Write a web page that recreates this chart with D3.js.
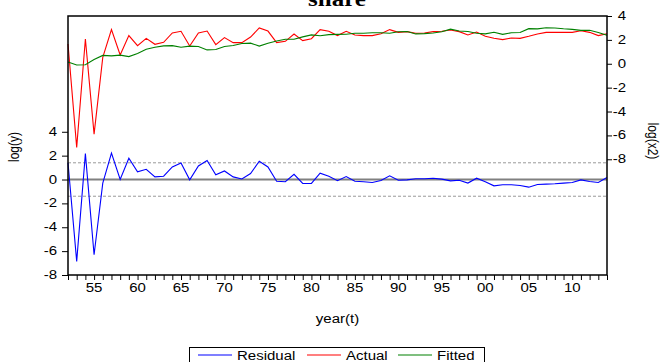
<!DOCTYPE html>
<html><head><meta charset="utf-8">
<script src="https://cdn.jsdelivr.net/npm/d3@7"></script>
<style>
body{margin:0;background:#fff}
svg{display:block}
text{font-family:"Liberation Sans",Arial,sans-serif;font-size:12px;fill:#000}
</style>
</head><body>
<svg id="c" width="663" height="362"></svg>
<script>
// Annual observations, 1952-2014
const years = d3.range(1952, 2015);

const actual = [
  1.65, -7.00, 2.07, -5.89, 0.54, 2.86, 0.73, 2.36, 1.52, 2.13,
  1.63, 1.80, 2.58, 2.72, 1.49, 2.58, 2.74, 1.60, 2.19, 1.77,
  1.77, 2.24, 3.00, 2.74, 1.77, 1.88, 2.49, 1.94, 2.10, 2.86,
  2.72, 2.36, 2.72, 2.41, 2.36, 2.36, 2.52, 2.86, 2.63, 2.69,
  2.55, 2.58, 2.69, 2.72, 2.83, 2.69, 2.41, 2.66, 2.30, 2.13,
  2.02, 2.16, 2.13, 2.30, 2.49, 2.63, 2.63, 2.63, 2.63, 2.77,
  2.63, 2.36, 2.52
];

const fitted = [
  0.15, -0.10, -0.08, 0.35, 0.70, 0.66, 0.72, 0.60, 0.85, 1.22,
  1.38, 1.50, 1.52, 1.38, 1.48, 1.44, 1.16, 1.20, 1.45, 1.53,
  1.70, 1.73, 1.48, 1.72, 1.90, 2.05, 2.05, 2.25, 2.42, 2.35,
  2.44, 2.46, 2.47, 2.55, 2.55, 2.60, 2.60, 2.55, 2.68, 2.70,
  2.50, 2.52, 2.58, 2.68, 2.90, 2.75, 2.70, 2.55, 2.50, 2.64,
  2.46, 2.60, 2.62, 2.94, 2.92, 3.02, 3.00, 2.93, 2.88, 2.80,
  2.80, 2.62, 2.38
];

const residual = [
  1.40, -6.86, 2.17, -6.30, -0.30, 2.22, 0.00, 1.78, 0.64, 0.86,
  0.22, 0.28, 1.05, 1.39, -0.03, 1.14, 1.60, 0.39, 0.72, 0.22,
  0.05, 0.50, 1.53, 1.05, -0.14, -0.19, 0.44, -0.33, -0.33, 0.53,
  0.28, -0.10, 0.25, -0.14, -0.19, -0.25, -0.08, 0.31, -0.06, -0.03,
  0.06, 0.06, 0.11, 0.03, -0.11, -0.06, -0.30, 0.11, -0.19, -0.53,
  -0.44, -0.44, -0.50, -0.64, -0.42, -0.39, -0.36, -0.30, -0.25, -0.03,
  -0.17, -0.25, 0.17
];

// Standard error band drawn around the zero line of the residuals
const seBand = 1.4;

const leftTicks = [4, 2, 0, -2, -4, -6, -8];
const rightTicks = [4, 2, 0, -2, -4, -6, -8];
const yearLabels = d3.range(1955, 2011, 5);

const seriesNames = ["Residual", "Actual", "Fitted"];
const seriesColors = ["#0000ff", "#ff0000", "#008000"];

const svg = d3.select("#c");
const W = 663, H = 362;
const m = {l: 68, r: 607, t: 16, b: 275};
const SX = 1.25; // horizontal text stretch

const x = d3.scaleLinear().domain([1952, 2014]).range([m.l, m.r]);
const yL = d3.scaleLinear().domain([-8, 13.7]).range([m.b, m.t]);
const yR = d3.scaleLinear().domain([-17.69, 4]).range([m.b, m.t]);

// stretched text helper
function label(sel, tx, ty, str, anchor, rot, extra) {
  const g = sel.append("g")
    .attr("transform", `translate(${tx},${ty}) scale(${SX},1)` + (rot ? ` rotate(${rot})` : ""));
  const t = g.append("text").attr("text-anchor", anchor || "start").text(str);
  if (extra) extra(t);
  return t;
}

// title (mostly above the visible area)
label(svg, 337, 6, "share", "middle", 0, t => t
  .style("font-family", '"Liberation Serif","Times New Roman",serif')
  .style("font-size", "20px").style("font-weight", "bold"));

const plot = svg.append("g");

// reference lines for residuals
plot.append("line")
  .attr("x1", m.l).attr("x2", m.r).attr("y1", yL(0)).attr("y2", yL(0))
  .attr("stroke", "#808080").attr("stroke-width", 2);
[seBand, -seBand].forEach(v => {
  plot.append("line")
    .attr("x1", m.l).attr("x2", m.r).attr("y1", yL(v)).attr("y2", yL(v))
    .attr("stroke", "#999").attr("stroke-width", 1).attr("stroke-dasharray", "3,2");
});

const lineL = d3.line().x((d, i) => x(years[i])).y(d => yL(d));
const lineR = d3.line().x((d, i) => x(years[i])).y(d => yR(d));

plot.append("path").datum(residual).attr("d", lineL)
  .attr("fill", "none").attr("stroke", seriesColors[0]).attr("stroke-width", 1.1);
plot.append("path").datum(actual).attr("d", lineR)
  .attr("fill", "none").attr("stroke", seriesColors[1]).attr("stroke-width", 1.1);
plot.append("path").datum(fitted).attr("d", lineR)
  .attr("fill", "none").attr("stroke", seriesColors[2]).attr("stroke-width", 1.1);

// frame
svg.append("rect").attr("x", m.l).attr("y", m.t)
  .attr("width", m.r - m.l).attr("height", m.b - m.t)
  .attr("fill", "none").attr("stroke", "#000").attr("stroke-width", 1.5);

// left axis
const gL = svg.append("g").attr("transform", `translate(${m.l},0)`)
  .call(d3.axisLeft(yL).tickValues(leftTicks).tickSize(6).tickFormat(""));
gL.select(".domain").remove();
gL.selectAll(".tick line").attr("stroke", "#000");
leftTicks.forEach(v => label(svg, m.l - 11, yL(v) + 4, String(v), "end"));

// right axis
const gR = svg.append("g").attr("transform", `translate(${m.r},0)`)
  .call(d3.axisRight(yR).tickValues(rightTicks).tickSize(5).tickFormat(""));
gR.select(".domain").remove();
gR.selectAll(".tick line").attr("stroke", "#000");
rightTicks.forEach(v => label(svg, m.r + 19, yR(v) + 4, String(v), "end"));

// bottom axis: a tick every year, labels every five
const gB = svg.append("g").attr("transform", `translate(0,${m.b})`)
  .call(d3.axisBottom(x).tickValues(years).tickSize(5).tickFormat(""));
gB.select(".domain").remove();
gB.selectAll(".tick line").attr("stroke", "#000");
yearLabels.forEach(v => label(svg, x(v), 292, String(v % 100).padStart(2, "0"), "middle"));

// axis titles
label(svg, 337.5, 323, "year(t)", "middle");
label(svg, 19, 147, "log(y)", "middle", -90);
label(svg, 648, 141, "log(x2)", "middle", 90);

// legend
const lg = svg.append("g");
lg.append("rect").attr("x", 189.5).attr("y", 347.5).attr("width", 295).attr("height", 20)
  .attr("fill", "#fff").attr("stroke", "#000").attr("stroke-width", 1);
const legX = [198, 307, 398];
seriesNames.forEach((n, i) => {
  lg.append("line").attr("x1", legX[i]).attr("x2", legX[i] + 34)
    .attr("y1", 355).attr("y2", 355)
    .attr("stroke", seriesColors[i]).attr("stroke-width", 1.1);
  label(lg, legX[i] + 39, 359.5, n, "start");
});
</script>
</body></html>
